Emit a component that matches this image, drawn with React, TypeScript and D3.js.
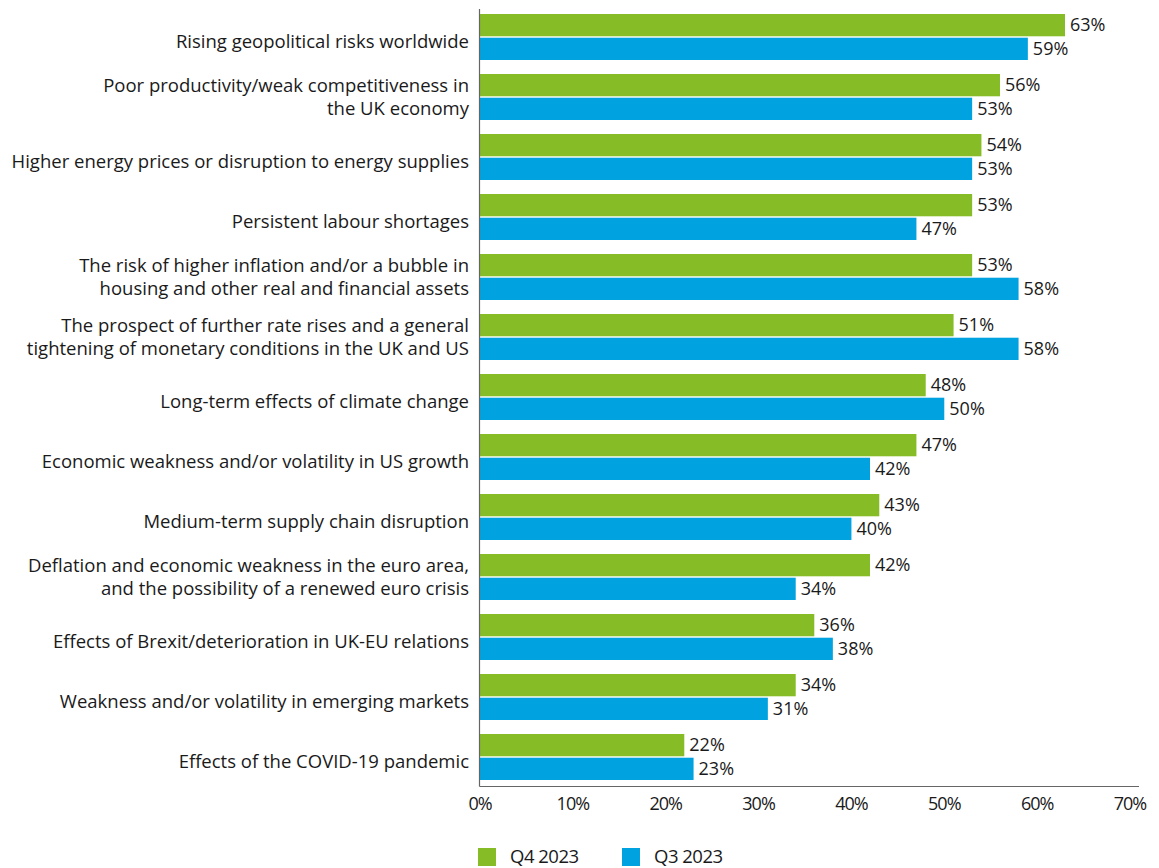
import React from "react";
import * as d3 from "d3";

const categories: string[][] = [
  ["Rising geopolitical risks worldwide"],
  ["Poor productivity/weak competitiveness in", "the UK economy"],
  ["Higher energy prices or disruption to energy supplies"],
  ["Persistent labour shortages"],
  ["The risk of higher inflation and/or a bubble in", "housing and other real and financial assets"],
  ["The prospect of further rate rises and a general", "tightening of monetary conditions in the UK and US"],
  ["Long-term effects of climate change"],
  ["Economic weakness and/or volatility in US growth"],
  ["Medium-term supply chain disruption"],
  ["Deflation and economic weakness in the euro area,", "and the possibility of a renewed euro crisis"],
  ["Effects of Brexit/deterioration in UK-EU relations"],
  ["Weakness and/or volatility in emerging markets"],
  ["Effects of the COVID-19 pandemic"],
];
const q4: number[] = [63, 56, 54, 53, 53, 51, 48, 47, 43, 42, 36, 34, 22];
const q3: number[] = [59, 53, 53, 47, 58, 58, 50, 42, 40, 34, 38, 31, 23];
const seriesNames = ["Q4 2023", "Q3 2023"];
const ticks = [0, 10, 20, 30, 40, 50, 60, 70];

const GREEN = "#86bc25";
const BLUE = "#00a3e0";
const TEXT = "#1a1a1a";
const FONT = "'Open Sans', sans-serif";

export default function App() {
  const W = 1159, H = 868;
  const left = 480, right = 1130, top = 7, bottom = 787;
  const x = d3.scaleLinear().domain([0, 70]).range([left, right]);
  const y0 = d3.scaleBand<number>().domain(d3.range(categories.length)).range([top, bottom]).paddingInner(14 / 60).paddingOuter(7 / 60);
  const bw = y0.bandwidth();
  const y1 = d3.scaleBand<number>().domain([0, 1]).range([0, bw]).paddingInner(0.06);
  const series = [q4, q3];
  const colors = [GREEN, BLUE];
  const baseY = 786.5;
  return (
    <svg width={W} height={H} style={{ position: "absolute", left: 0, top: 0, fontFamily: FONT }}>
      {categories.map((lines, i) => {
        const gy = y0(i)!;
        const cy = gy + bw / 2;
        return (
          <g key={i}>
            {series.map((s, k) => {
              const by = gy + y1(k)!;
              return (
                <g key={k}>
                  <rect x={x(0)} y={by} width={x(s[i]) - x(0)} height={y1.bandwidth()} fill={colors[k]} />
                  <text x={x(s[i]) + 5} y={by + y1.bandwidth() / 2} dy="0.35em" fontSize={18} fill={TEXT}>
                    {s[i]}%
                  </text>
                </g>
              );
            })}
            {lines.length === 1 ? (
              <text x={469} y={cy + 4.5} dy="0.35em" textAnchor="end" fontSize={18.5} fill={TEXT}>
                {lines[0]}
              </text>
            ) : (
              lines.map((l, j) => (
                <text key={j} x={469} y={cy - 11 + j * 23} dy="0.35em" textAnchor="end" fontSize={18.5} fill={TEXT}>
                  {l}
                </text>
              ))
            )}
          </g>
        );
      })}
      <line x1={479.5} x2={479.5} y1={9} y2={baseY} stroke="#666" strokeWidth={1.2} />
      <line x1={479.5} x2={1139} y1={baseY} y2={baseY} stroke="#666" strokeWidth={1.2} />
      {ticks.map((t) => (
        <text key={t} x={x(t)} y={804} dy="0.35em" textAnchor="middle" fontSize={18} letterSpacing={-1} fill={TEXT}>
          {t}%
        </text>
      ))}
      {seriesNames.map((n, k) => {
        const lx = 478 + k * 144;
        return (
          <g key={n}>
            <rect x={lx} y={848} width={18} height={18} fill={colors[k]} />
            <text x={lx + 32} y={857} dy="0.35em" fontSize={18.5} letterSpacing={-0.5} fill={TEXT}>
              {n}
            </text>
          </g>
        );
      })}
    </svg>
  );
}
